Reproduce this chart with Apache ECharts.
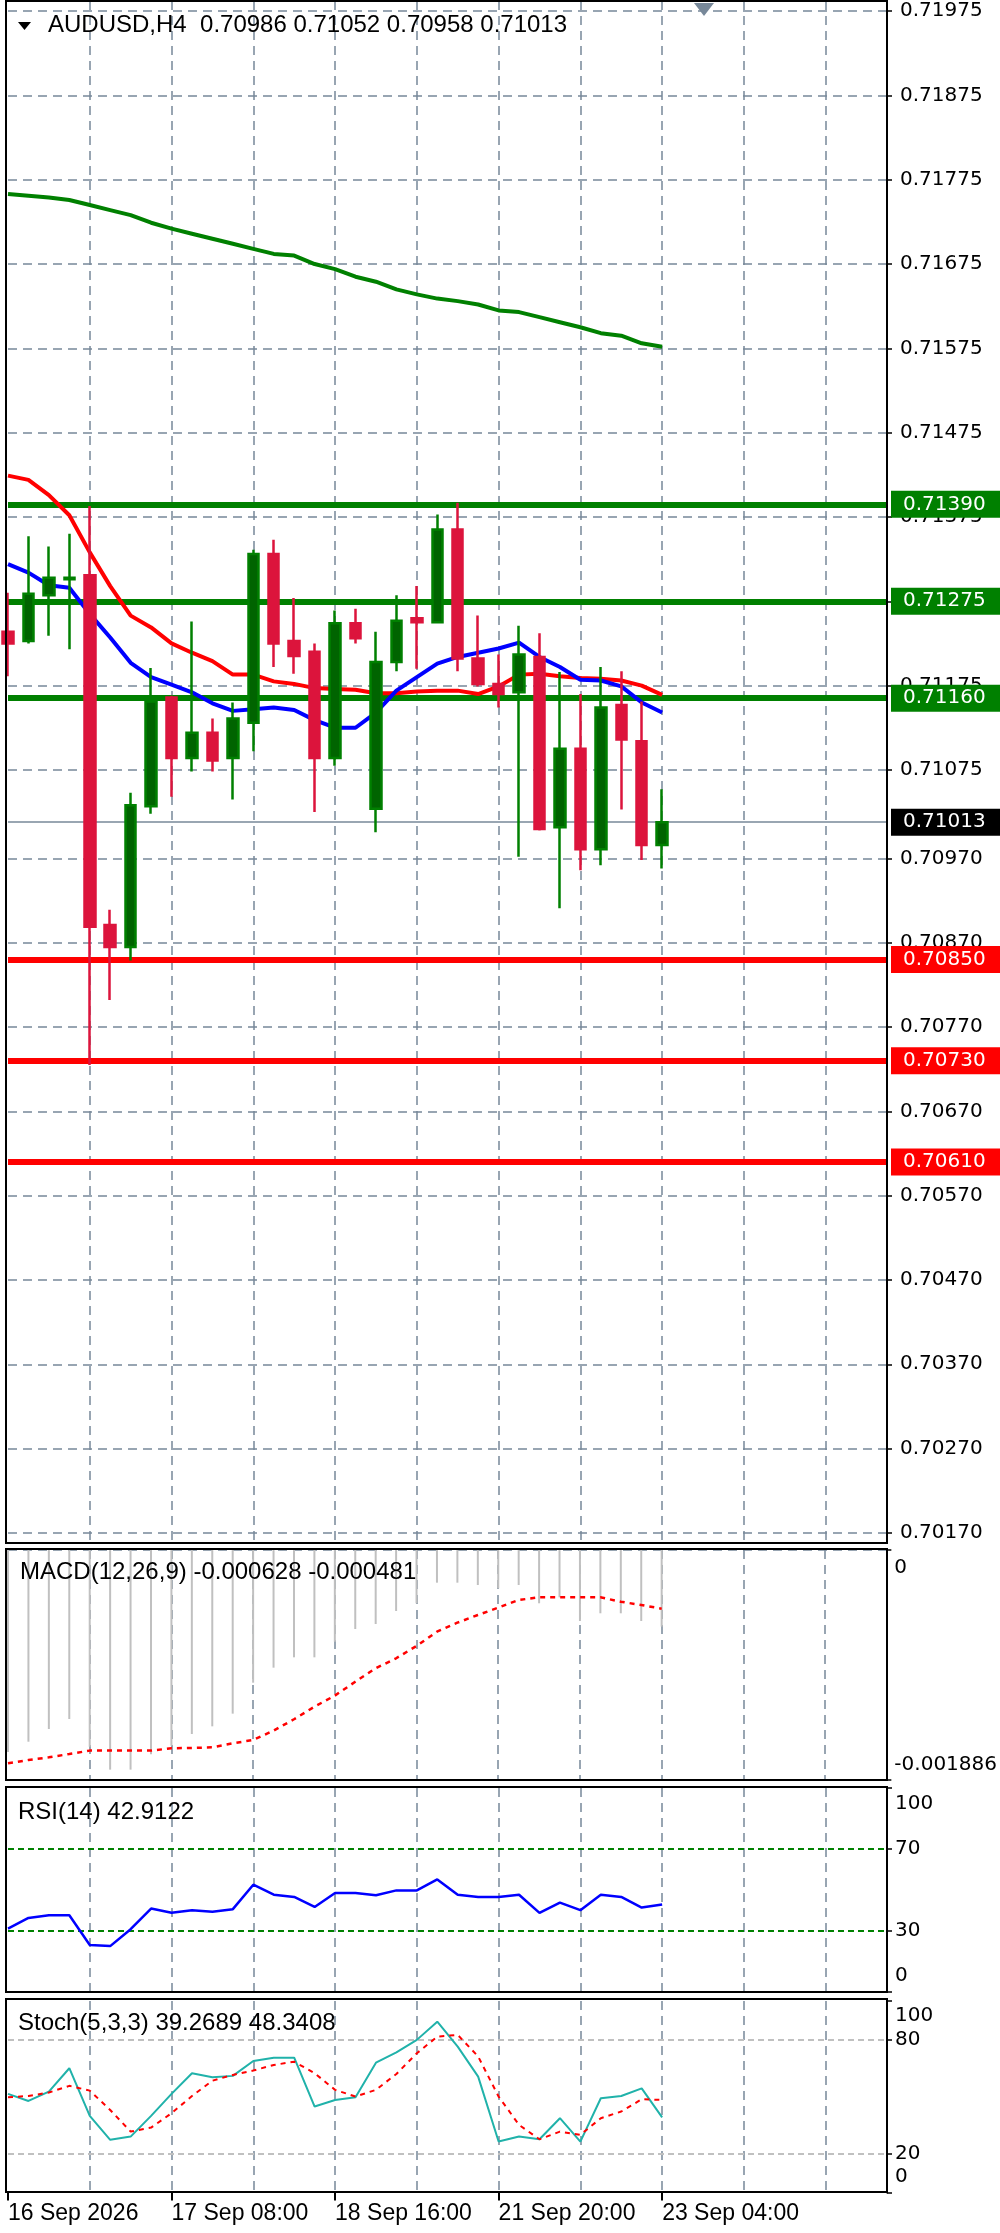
<!DOCTYPE html>
<html>
<head>
<meta charset="utf-8">
<script src="https://cdn.jsdelivr.net/npm/echarts@6/dist/echarts.min.js"></script>
<style>
html,body{margin:0;padding:0;background:#ffffff;}
#c{width:1000px;height:2233px;}
</style>
</head>
<body>
<div id="c"></div>
<script>
// ---------------- DATA ----------------
const symbolName = 'AUDUSD,H4';
const categories = [
  '16 Sep 00:00','16 Sep 04:00','16 Sep 08:00','16 Sep 12:00','16 Sep 16:00','16 Sep 20:00',
  '17 Sep 00:00','17 Sep 04:00','17 Sep 08:00','17 Sep 12:00','17 Sep 16:00','17 Sep 20:00',
  '18 Sep 00:00','18 Sep 04:00','18 Sep 08:00','18 Sep 12:00','18 Sep 16:00','18 Sep 20:00',
  '20 Sep 20:00',
  '21 Sep 00:00','21 Sep 04:00','21 Sep 08:00','21 Sep 12:00','21 Sep 16:00','21 Sep 20:00',
  '22 Sep 00:00','22 Sep 04:00','22 Sep 08:00','22 Sep 12:00','22 Sep 16:00','22 Sep 20:00',
  '23 Sep 00:00','23 Sep 04:00','23 Sep 08:00','23 Sep 12:00','23 Sep 16:00','23 Sep 20:00',
  '24 Sep 00:00','24 Sep 04:00','24 Sep 08:00','24 Sep 12:00','24 Sep 16:00','24 Sep 20:00',
  '25 Sep 00:00'
];
const xTickIndex = [0, 8, 16, 24, 32];
const xTickLabels = ['16 Sep 2026', '17 Sep 08:00', '18 Sep 16:00', '21 Sep 20:00', '23 Sep 04:00'];

const opens  = [0.71239,0.71228,0.71282,0.71301,0.71306,0.70891,0.70865,0.71032,0.71161,0.71089,0.71119,0.71089,0.71131,0.71331,0.71228,0.71215,0.71089,0.71249,0.71029,0.71203,0.71255,0.71250,0.71360,0.71207,0.71177,0.71167,0.71209,0.71007,0.71100,0.70981,0.71152,0.71109,0.70986];
const highs  = [0.71285,0.71352,0.71340,0.71355,0.71388,0.70909,0.71048,0.71196,0.71163,0.71251,0.71136,0.71155,0.71336,0.71348,0.71279,0.71225,0.71264,0.71266,0.71239,0.71282,0.71293,0.71378,0.71392,0.71258,0.71212,0.71246,0.71237,0.71191,0.71165,0.71197,0.71192,0.71156,0.71052];
const lows   = [0.71186,0.71225,0.71234,0.71218,0.70725,0.70802,0.70849,0.71023,0.71043,0.71073,0.71073,0.71040,0.71097,0.71197,0.71189,0.71025,0.71080,0.71225,0.71001,0.71192,0.71195,0.71250,0.71192,0.71174,0.71149,0.70972,0.71003,0.70911,0.70956,0.70962,0.71028,0.70968,0.70958];
const closes = [0.71225,0.71284,0.71303,0.71303,0.70889,0.70865,0.71033,0.71156,0.71089,0.71119,0.71086,0.71136,0.71331,0.71225,0.71210,0.71089,0.71249,0.71231,0.71203,0.71252,0.71250,0.71360,0.71207,0.71177,0.71165,0.71212,0.71005,0.71100,0.70981,0.71149,0.71111,0.70986,0.71013];

const maGreen = [0.71758,0.71756,0.71754,0.71751,0.71745,0.71739,0.71733,0.71724,0.71717,0.71711,0.71705,0.71699,0.71693,0.71687,0.71685,0.71675,0.71669,0.71660,0.71654,0.71645,0.71639,0.71634,0.71631,0.71627,0.71620,0.71618,0.71612,0.71606,0.71600,0.71593,0.71590,0.71581,0.71577];
const maRed   = [0.71424,0.71419,0.71401,0.71377,0.71333,0.71293,0.71258,0.71244,0.71225,0.71214,0.71204,0.71188,0.71188,0.71180,0.71177,0.71172,0.71171,0.71170,0.71166,0.71166,0.71168,0.71169,0.71169,0.71165,0.71174,0.71188,0.71189,0.71186,0.71184,0.71183,0.71181,0.71175,0.71164];
const maBlue  = [0.71319,0.71309,0.71294,0.71291,0.71260,0.71232,0.71202,0.71185,0.71176,0.71167,0.71154,0.71145,0.71147,0.71149,0.71146,0.71134,0.71125,0.71125,0.71143,0.71169,0.71185,0.71201,0.71209,0.71214,0.71219,0.71226,0.71209,0.71197,0.71182,0.71181,0.71174,0.71155,0.71143];

const resistanceLevels = [0.71390, 0.71275, 0.71160];
const supportLevels    = [0.70850, 0.70730, 0.70610];
const priceTicks = [0.71975,0.71875,0.71775,0.71675,0.71575,0.71475,0.71375,0.71275,0.71175,0.71075,0.70970,0.70870,0.70770,0.70670,0.70570,0.70470,0.70370,0.70270,0.70170];

const macdHist   = [-0.001656,-0.001572,-0.001468,-0.001386,-0.001613,-0.001801,-0.001801,-0.001675,-0.001605,-0.001509,-0.001446,-0.001342,-0.001088,-0.000965,-0.000880,-0.000880,-0.000752,-0.000648,-0.000607,-0.000500,-0.000437,-0.000268,-0.000268,-0.000287,-0.000314,-0.000287,-0.000437,-0.000388,-0.000582,-0.000519,-0.000519,-0.000582,-0.000628];
const macdSignal = [-0.001749,-0.001722,-0.001700,-0.001673,-0.001645,-0.001645,-0.001645,-0.001645,-0.001626,-0.001623,-0.001618,-0.001585,-0.001558,-0.001481,-0.001388,-0.001285,-0.001194,-0.001080,-0.000970,-0.000888,-0.000787,-0.000670,-0.000596,-0.000533,-0.000473,-0.000410,-0.000388,-0.000388,-0.000388,-0.000388,-0.000424,-0.000451,-0.000481];
const macdTicks = [0, -0.001886];

const rsiValues = [31.1,36.3,37.6,37.6,23.0,22.5,30.8,40.9,38.8,40.1,39.3,40.6,52.6,47.7,46.6,41.7,48.5,48.5,47.4,49.8,49.8,55.2,47.7,46.6,46.6,47.7,38.8,43.8,40.1,47.7,46.6,41.4,42.9122];
const rsiLevels = [70, 30];
const rsiTicks = [100, 70, 30, 0];

const stochK = [51.5,47.8,52.7,64.9,40.0,27.5,29.2,40.0,51.5,62.3,60.2,60.9,68.7,70.4,70.4,44.9,48.3,49.7,67.8,73.2,79.7,89.2,76.2,60.5,26.6,29.2,27.8,38.8,26.6,49.2,50.4,54.4,39.2689];
const stochD = [49.7,50.4,52.2,55.7,53.2,43.1,31.8,33.9,41.4,50.4,58.4,61.4,63.7,66.6,68.3,62.3,53.6,50.1,53.6,61.9,72.7,81.4,82.3,71.0,50.1,35.3,27.8,31.8,30.1,38.8,42.3,48.7,48.3408];
const stochLevels = [80, 20];
const stochTicks = [100, 80, 20, 0];

// ---------------- LAYOUT / STYLE ----------------
const GL = 8, GW = 879;
const panels = [
  {top: 1,    height: 1542, min: 0.70158, max: 0.71987},
  {top: 1550, height: 230,  min: -0.001886, max: 0},
  {top: 1788, height: 204,  min: 0, max: 100},
  {top: 2001, height: 191.5, min: 0, max: 100}
];
const borders = [[6,1,881,1542],[6,1549,881,231],[6,1787,881,205],[6,1999,881,193]];
const GRID_COLOR = '#778899';
const AXIS_FONT = 'DejaVu Sans';
const AXIS_SIZE = 20;
const TEXT_FONT = 'Liberation Sans';

const last = closes.length - 1;
const candleData = opens.map((o, i) => [o, closes[i], lows[i], highs[i]]);
const f5 = v => Number(v).toFixed(5);
const titleMain = symbolName + '  ' + f5(opens[last]) + ' ' + f5(highs[last]) + ' ' + f5(lows[last]) + ' ' + f5(closes[last]);
const titleMacd = 'MACD(12,26,9) ' + macdHist[last].toFixed(6) + ' ' + macdSignal[last].toFixed(6);
const titleRsi = 'RSI(14) ' + rsiValues[last].toFixed(4);
const titleStoch = 'Stoch(5,3,3) ' + stochK[last].toFixed(4) + ' ' + stochD[last].toFixed(4);

const vSplit = (idx) => idx > 0 && idx % 4 === 0;
const isTick = (idx) => xTickIndex.indexOf(idx) >= 0;

function xAxisFor(g, withLabels) {
  return {
    type: 'category', gridIndex: g, data: categories, boundaryGap: false,
    axisLine: {show: false},
    axisTick: withLabels ? {show: true, interval: isTick, length: 8, lineStyle: {color: '#000', width: 2}} : {show: false},
    axisLabel: withLabels ? {
      show: true, interval: isTick, align: 'left', margin: 10,
      color: '#000', fontFamily: TEXT_FONT, fontSize: 23,
      formatter: (v, idx) => { const k = xTickIndex.indexOf(idx); return k >= 0 ? xTickLabels[k] : ''; }
    } : {show: false},
    splitLine: {show: true, interval: vSplit, lineStyle: {color: GRID_COLOR, type: [9, 6], width: 1.5}}
  };
}

function richLabels(topShift, bottomShift) {
  const base = {fontFamily: AXIS_FONT, fontSize: AXIS_SIZE, color: '#000'};
  return {
    t: Object.assign({padding: [topShift * 2, 0, 0, 0]}, base),
    b: Object.assign({padding: [0, 0, bottomShift * 2, 0]}, base)
  };
}

function yAxisFor(g, ticks, fmt, margin, rich) {
  const p = panels[g];
  return {
    type: 'value', gridIndex: g, position: 'right', min: p.min, max: p.max, scale: true,
    axisLine: {show: true, onZero: false, lineStyle: {color: '#000', width: 2}},
    axisTick: {show: true, customValues: ticks, length: 5, lineStyle: {color: '#000', width: 1.5}},
    axisLabel: {show: true, customValues: ticks, margin: margin, color: '#000', fontFamily: AXIS_FONT, fontSize: AXIS_SIZE, formatter: fmt, rich: rich},
    splitLine: {show: false}
  };
}

function boxLabel(bg) {
  return {
    show: true, position: 'end', distance: 4,
    backgroundColor: bg, color: '#ffffff',
    fontFamily: AXIS_FONT, fontSize: AXIS_SIZE, lineHeight: 19,
    padding: [4, 20, 4, 12],
    formatter: p => f5(p.value)
  };
}

const mainMarkLines = []
  .concat(priceTicks.map(v => ({yAxis: v, lineStyle: {color: GRID_COLOR, type: [9, 6], width: 1.5}, label: {show: false}})))
  .concat(resistanceLevels.map(v => ({yAxis: v, lineStyle: {color: '#008000', type: 'solid', width: 6}, label: boxLabel('#008000')})))
  .concat(supportLevels.map(v => ({yAxis: v, lineStyle: {color: '#FF0000', type: 'solid', width: 6}, label: boxLabel('#FF0000')})))
  .concat([{yAxis: closes[last], lineStyle: {color: GRID_COLOR, type: 'solid', width: 1.5}, label: boxLabel('#000000')}]);

const titleFont = '24px "Liberation Sans"';

const option = {
  animation: false,
  backgroundColor: '#ffffff',
  grid: panels.map(p => ({left: GL, top: p.top, width: GW, height: p.height, containLabel: false})),
  xAxis: [xAxisFor(0, false), xAxisFor(1, false), xAxisFor(2, false), xAxisFor(3, true)],
  yAxis: [
    yAxisFor(0, priceTicks, v => f5(v), 13, undefined),
    yAxisFor(1, macdTicks, v => (v === 0 ? '{t|0}' : '{b|' + v.toFixed(6) + '}'), 8, richLabels(18, 15)),
    yAxisFor(2, rsiTicks, v => (v === 100 ? '{t|100}' : (v === 0 ? '{b|0}' : String(v))), 8, richLabels(16, 16)),
    yAxisFor(3, stochTicks, v => (v === 100 ? '{t|100}' : (v === 0 ? '{b|0}' : String(v))), 8, richLabels(15, 16))
  ],
  series: [
    {
      type: 'candlestick', name: 'price', xAxisIndex: 0, yAxisIndex: 0, z: 4,
      data: candleData, barWidth: 11,
      itemStyle: {color: '#006400', color0: '#DC143C', borderColor: '#008000', borderColor0: '#DC143C', borderWidth: 2.5},
      markLine: {symbol: ['none', 'none'], silent: true, z: 1, precision: 5, animation: false, data: mainMarkLines}
    },
    {type: 'line', name: 'MA green', xAxisIndex: 0, yAxisIndex: 0, z: 2, data: maGreen, symbol: 'none', lineStyle: {color: '#008000', width: 4}},
    {type: 'line', name: 'MA red', xAxisIndex: 0, yAxisIndex: 0, z: 2, data: maRed, symbol: 'none', lineStyle: {color: '#FF0000', width: 4}},
    {type: 'line', name: 'MA blue', xAxisIndex: 0, yAxisIndex: 0, z: 2, data: maBlue, symbol: 'none', lineStyle: {color: '#0000FF', width: 4}},
    {
      type: 'bar', name: 'MACD', xAxisIndex: 1, yAxisIndex: 1, z: 2, data: macdHist, barWidth: 2,
      itemStyle: {color: '#C0C0C0'},
      markLine: {symbol: ['none', 'none'], silent: true, z: 1, label: {show: false}, data: [{yAxis: 0, lineStyle: {color: GRID_COLOR, type: [9, 6], width: 1.5}}]}
    },
    {type: 'line', name: 'Signal', xAxisIndex: 1, yAxisIndex: 1, z: 3, data: macdSignal, symbol: 'none', lineStyle: {color: '#FF0000', width: 2.5, type: [5, 5]}},
    {
      type: 'line', name: 'RSI', xAxisIndex: 2, yAxisIndex: 2, z: 3, data: rsiValues, symbol: 'none', lineStyle: {color: '#0000FF', width: 2.5},
      markLine: {symbol: ['none', 'none'], silent: true, z: 1, label: {show: false}, data: rsiLevels.map(v => ({yAxis: v, lineStyle: {color: '#008000', type: [6, 4], width: 2}}))}
    },
    {
      type: 'line', name: 'Stoch main', xAxisIndex: 3, yAxisIndex: 3, z: 3, data: stochK, symbol: 'none', lineStyle: {color: '#20B2AA', width: 2},
      markLine: {symbol: ['none', 'none'], silent: true, z: 1, label: {show: false}, data: stochLevels.map(v => ({yAxis: v, lineStyle: {color: '#C0C0C0', type: [6, 4], width: 2}}))}
    },
    {type: 'line', name: 'Stoch signal', xAxisIndex: 3, yAxisIndex: 3, z: 3, data: stochD, symbol: 'none', lineStyle: {color: '#FF0000', width: 2, type: [5, 5]}}
  ],
  graphic: [].concat(
    borders.map(b => ({type: 'rect', z: 50, silent: true, shape: {x: b[0], y: b[1], width: b[2], height: b[3]}, style: {fill: null, stroke: '#000', lineWidth: 2}})),
    [
      {type: 'polygon', z: 60, silent: true, shape: {points: [[18, 22], [31, 22], [24.5, 30]]}, style: {fill: '#000'}},
      {type: 'polygon', z: 60, silent: true, shape: {points: [[694, 3], [714, 3], [704, 16]]}, style: {fill: GRID_COLOR}},
      {type: 'text', z: 60, silent: true, x: 48, y: 25, style: {text: titleMain, font: titleFont, fill: '#000', verticalAlign: 'middle', textVerticalAlign: 'middle'}},
      {type: 'text', z: 60, silent: true, x: 20, y: 1572, style: {text: titleMacd, font: titleFont, fill: '#000', verticalAlign: 'middle', textVerticalAlign: 'middle'}},
      {type: 'text', z: 60, silent: true, x: 18, y: 1812, style: {text: titleRsi, font: titleFont, fill: '#000', verticalAlign: 'middle', textVerticalAlign: 'middle'}},
      {type: 'text', z: 60, silent: true, x: 18, y: 2023, style: {text: titleStoch, font: titleFont, fill: '#000', verticalAlign: 'middle', textVerticalAlign: 'middle'}}
    ]
  )
};

const chart = echarts.init(document.getElementById('c'), null, {renderer: 'canvas', width: 1000, height: 2233});
chart.setOption(option);
</script>
</body>
</html>
